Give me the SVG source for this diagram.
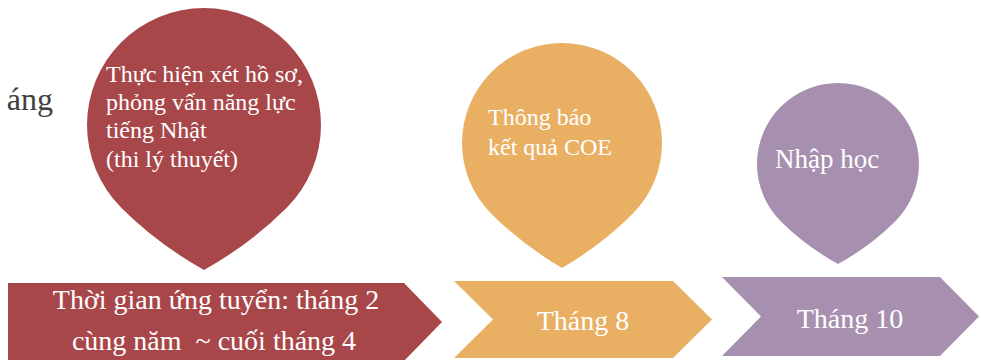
<svg xmlns="http://www.w3.org/2000/svg" width="981" height="360" viewBox="0 0 981 360">
<style>
text{font-family:"Liberation Serif","Times New Roman",serif;fill:#ffffff;}
.red{fill:#A8474A;}
.org{fill:#E9B064;}
.pur{fill:#A78FAF;}
.dark{fill:#404040;}
</style>
<rect width="981" height="360" fill="#ffffff"/>
<text class="dark" x="53" y="110" font-size="32" text-anchor="end">áng</text>
<g id="drop1">
<path class="red" transform="translate(204,125) rotate(135)" d="M-117,0 A117,117 0 0 1 0,-117 Q51.25,-117 102.5,-102.5 Q117,-51.25 117,0 A117,117 0 0 1 0,117 A117,117 0 0 1 -117,0 Z"/>
<text font-size="24"><tspan x="106" y="82">Thực hiện xét hồ sơ,</tspan><tspan x="106" y="110">phỏng vấn năng lực</tspan><tspan x="106" y="138">tiếng Nhật</tspan><tspan x="106" y="167">(thi lý thuyết)</tspan></text>
</g>
<g id="drop2">
<path class="org" transform="translate(562,143) rotate(135)" d="M-100,0 A100,100 0 0 1 0,-100 Q44.2,-100 88.4,-88.4 Q100,-44.2 100,0 A100,100 0 0 1 0,100 A100,100 0 0 1 -100,0 Z"/>
<text font-size="24"><tspan x="488" y="125">Thông báo</tspan><tspan x="488" y="155">kết quả COE</tspan></text>
</g>
<g id="drop3">
<path class="pur" transform="translate(838,164) rotate(135)" d="M-81,0 A81,81 0 0 1 0,-81 Q35.35,-81 70.7,-70.7 Q81,-35.35 81,0 A81,81 0 0 1 0,81 A81,81 0 0 1 -81,0 Z"/>
<text font-size="27" x="775" y="168">Nhập học</text>
</g>
<g id="step1">
<path class="red" d="M8,283 L404,283 L442,322 L404,361 L8,361 Z"/>
<text font-size="28" text-anchor="middle" xml:space="preserve"><tspan x="216" y="309">Thời gian ứng tuyển: tháng 2</tspan><tspan x="214" y="350">cùng năm  ~ cuối tháng 4</tspan></text>
</g>
<g id="step2">
<path class="org" d="M454,281 L673,281 L712,319.5 L673,358 L454,358 L493,319.5 Z"/>
<text font-size="28" text-anchor="middle" x="583" y="330">Tháng 8</text>
</g>
<g id="step3">
<path class="pur" d="M722,277 L940,277 L979,316.5 L940,356 L722,356 L761,316.5 Z"/>
<text font-size="28" text-anchor="middle" x="850" y="328">Tháng 10</text>
</g>
<g id="connectors"/>
</svg>
